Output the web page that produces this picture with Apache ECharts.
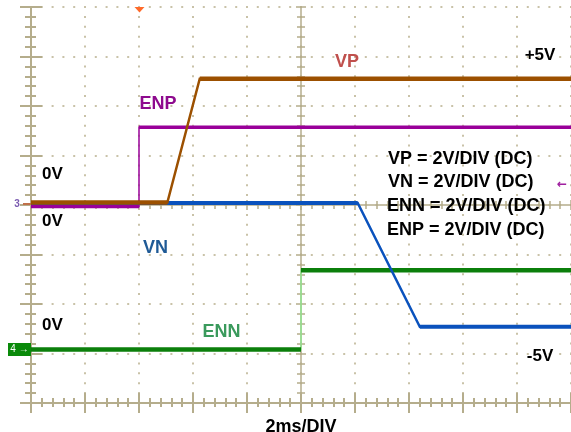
<!DOCTYPE html>
<html>
<head>
<meta charset="utf-8">
<script src="https://cdn.jsdelivr.net/npm/echarts@6/dist/echarts.min.js"></script>
<style>
html,body{margin:0;padding:0;background:#fff;}
#chart{width:571px;height:432px;}
</style>
</head>
<body>
<div id="chart"></div>
<script>
// ---- data (time in ms, voltage in V) ----
const vpTime = [0, 5.05, 6.25, 20];
const vpVolts = [0, 0, 5, 5];
const enpTime = [0, 4.0, 4.0, 20];
const enpVolts = [0, 0, 3.2, 3.2];
const vnTime = [0, 12.1, 14.4, 20];
const vnVolts = [0, 0, -5, -5];
const ennTime = [0, 10.0, 10.0, 20];
const ennVolts = [0, 0, 3.2, 3.2];

// scope settings
const timePerDiv = 2;      // ms/div
const voltsPerDiv = 2;     // V/div
const vpZero = 4.05, vnZero = 4.04, enpZero = 3.97, ennZero = 1.08; // channel 0V position (div)

const channelLabels = ['VP = 2V/DIV (DC)', 'VN = 2V/DIV (DC)', 'ENN = 2V/DIV (DC)', 'ENP = 2V/DIV (DC)'];

function pts(t, v, zero) {
  return t.map((x, i) => [x, zero + v[i] / voltsPerDiv]);
}
// flat segments only (break where level changes)
function flats(t, v, zero) {
  const out = [];
  for (let i = 0; i < t.length; i++) {
    if (i > 0 && v[i] !== v[i - 1]) out.push('-');
    out.push([t[i], zero + v[i] / voltsPerDiv]);
  }
  return out;
}

const frame = '#b5ad8c';
const dot = '#c9c2a8';
const FONT = '"Liberation Sans", Arial, sans-serif';

const chart = echarts.init(document.getElementById('chart'), null, {renderer: 'canvas'});

function line(name, data, color, width, z) {
  return {
    name, type: 'line', data, xAxisIndex: 0, yAxisIndex: 0,
    showSymbol: false, symbol: 'none', connectNulls: false, animation: false,
    lineStyle: {color, width, cap: 'butt', join: 'miter'}, z, silent: true
  };
}

const txt = (text, x, y, color, size, align) => ({
  type: 'text', x, y, z: 100,
  style: {text, fill: color, font: 'bold ' + size + 'px ' + FONT,
          textAlign: align || 'left', textVerticalAlign: 'middle'}
});

const xBase = {type: 'value', min: 0, max: 20, interval: timePerDiv, axisLabel: {show: false}, splitLine: {show: false}};
const yBase = {type: 'value', min: 0, max: 8, interval: 1, axisLabel: {show: false}, splitLine: {show: false}};

chart.setOption({
  animation: false,
  backgroundColor: '#ffffff',
  grid: {left: 31, top: 7, width: 540, height: 396, containLabel: false, outerBoundsMode: 'none'},
  xAxis: [
    Object.assign({}, xBase, {
      position: 'bottom',
      axisLine: {show: true, lineStyle: {color: frame, width: 2}},
      axisTick: {show: true, inside: true, length: 10, lineStyle: {color: frame, width: 2}},
      minorTick: {show: true, splitNumber: 5, length: 5, lineStyle: {color: frame, width: 2}},
      splitLine: {show: true, lineStyle: {color: dot, width: 2, type: [2, 7.9], dashOffset: 1}},
      name: '2ms/DIV', nameLocation: 'middle', nameGap: 15,
      nameTextStyle: {color: '#000', fontWeight: 'bold', fontSize: 18, fontFamily: FONT}
    }),
    Object.assign({}, xBase, {
      position: 'top',
      axisLine: {show: false},
      axisTick: {show: true, inside: true, length: 10, lineStyle: {color: frame, width: 2}},
      minorTick: {show: true, splitNumber: 5, length: 4, lineStyle: {color: frame, width: 2}}
    }),
    Object.assign({}, xBase, {
      position: 'bottom', offset: -198,
      axisLine: {show: true, lineStyle: {color: frame, width: 1.5}},
      axisTick: {show: true, inside: true, length: 5, lineStyle: {color: frame, width: 1.5}},
      minorTick: {show: true, splitNumber: 5, length: 4, lineStyle: {color: frame, width: 1.5}}
    }),
    Object.assign({}, xBase, {
      position: 'bottom', offset: -198,
      axisLine: {show: false},
      axisTick: {show: true, inside: false, length: 5, lineStyle: {color: frame, width: 1.5}},
      minorTick: {show: true, splitNumber: 5, length: 4, lineStyle: {color: frame, width: 1.5}}
    })
  ],
  yAxis: [
    Object.assign({}, yBase, {
      position: 'left',
      axisLine: {show: true, lineStyle: {color: frame, width: 2}},
      axisTick: {show: true, inside: true, length: 11, lineStyle: {color: frame, width: 2}},
      minorTick: {show: true, splitNumber: 5, length: 5, lineStyle: {color: frame, width: 2}},
      splitLine: {show: true, lineStyle: {color: dot, width: 2, type: [2, 8.8], dashOffset: 1}}
    }),
    Object.assign({}, yBase, {
      position: 'right',
      axisLine: {show: false},
      axisTick: {show: true, inside: true, length: 11, lineStyle: {color: frame, width: 2}},
      minorTick: {show: true, splitNumber: 5, length: 6, lineStyle: {color: frame, width: 2}}
    }),
    Object.assign({}, yBase, {
      position: 'left', offset: -270,
      axisLine: {show: true, lineStyle: {color: frame, width: 1.5}},
      axisTick: {show: true, inside: true, length: 5, lineStyle: {color: frame, width: 1.5}},
      minorTick: {show: true, splitNumber: 5, length: 4, lineStyle: {color: frame, width: 1.5}}
    }),
    Object.assign({}, yBase, {
      position: 'left', offset: -270,
      axisLine: {show: false},
      axisTick: {show: true, inside: false, length: 5, lineStyle: {color: frame, width: 1.5}},
      minorTick: {show: true, splitNumber: 5, length: 4, lineStyle: {color: frame, width: 1.5}}
    })
  ],
  series: [
    line('ENN edge', pts(ennTime, ennVolts, ennZero), '#8fe58f', 1.5, 2),
    line('ENN', flats(ennTime, ennVolts, ennZero), '#0b7f0b', 4.5, 3),
    line('ENP edge', pts(enpTime, enpVolts, enpZero), '#990099', 1.5, 4),
    line('ENP', flats(enpTime, enpVolts, enpZero), '#990099', 3.5, 5),
    line('VN ramp', pts(vnTime, vnVolts, vnZero), '#0a52bd', 2.5, 6),
    line('VN', flats(vnTime, vnVolts, vnZero), '#0a52bd', 4, 7),
    line('VP ramp', pts(vpTime, vpVolts, vpZero), '#9c5000', 2.5, 8),
    line('VP', flats(vpTime, vpVolts, vpZero), '#9c5000', 4.5, 9)
  ],
  graphic: [
    txt('VP', 347, 62, '#c0504d', 18, 'center'),
    txt('ENP', 158, 104.5, '#8e0a8e', 18, 'center'),
    txt('VN', 155.5, 248, '#1f5a96', 18, 'center'),
    txt('ENN', 221.5, 332, '#3a9a5c', 18, 'center'),
    txt('+5V', 540, 55, '#000', 17, 'center'),
    txt('-5V', 540, 356, '#000', 17, 'center'),
    txt('0V', 42, 174, '#000', 17, 'left'),
    txt('0V', 42, 221, '#000', 17, 'left'),
    txt('0V', 42, 325, '#000', 17, 'left'),
    txt(channelLabels[0], 388, 159, '#000', 18, 'left'),
    txt(channelLabels[1], 388, 182, '#000', 18, 'left'),
    txt(channelLabels[2], 387, 206.5, '#000', 18, 'left'),
    txt(channelLabels[3], 387, 230, '#000', 18, 'left'),
    {type: 'polygon', z: 100, shape: {points: [[134.5, 7], [144.5, 7], [139.5, 12.5]]}, style: {fill: '#ff6a2a'}},
    {type: 'rect', z: 100, shape: {x: 8, y: 343, width: 23, height: 13}, style: {fill: '#0a8a0a'}},
    {type: 'text', z: 101, x: 19.5, y: 349.5, style: {text: '4 →', fill: '#ffffff', font: '10px ' + FONT, textAlign: 'center', textVerticalAlign: 'middle'}},
    {type: 'text', z: 101, x: 17, y: 204, style: {text: '3', fill: '#7a5ab0', font: 'bold 10px ' + FONT, textAlign: 'center', textVerticalAlign: 'middle'}},
    {type: 'line', z: 100, shape: {x1: 23, y1: 204, x2: 31, y2: 204}, style: {stroke: '#c0704a', lineWidth: 2}},
    {type: 'text', z: 101, x: 562, y: 185, style: {text: '←', fill: '#a020a0', font: 'bold 12px "DejaVu Sans", sans-serif', textAlign: 'center', textVerticalAlign: 'middle'}}
  ]
});
</script>
</body>
</html>
